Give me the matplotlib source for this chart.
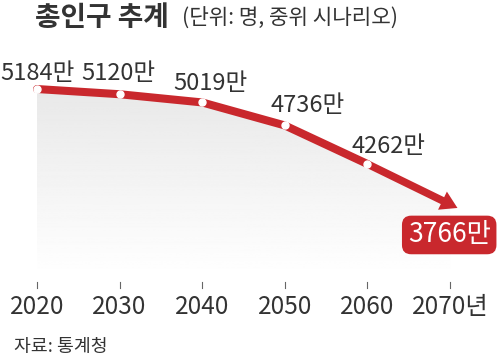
import numpy as np
import matplotlib.pyplot as plt
from matplotlib.patches import Polygon

plt.rcParams['font.family'] = ['Noto Sans CJK KR', 'DejaVu Sans']
narrow = ['Liberation Sans Narrow', 'Noto Sans CJK KR', 'DejaVu Sans']

# 데이터
years = [2020, 2030, 2040, 2050, 2060, 2070]
pop = [5184, 5120, 5019, 4736, 4262, 3766]
labels = ['5184만', '5120만', '5019만', '4736만', '4262만', '3766만']
tick_labels = ['2020', '2030', '2040', '2050', '2060', '2070년']

red = '#c9282d'
txt = '#333333'

fig = plt.figure(figsize=(5, 3.6), dpi=100)
ax = fig.add_axes([0, 0, 1, 1])
ax.set_xlim(2015.52, 2076.05)
ax.set_ylim(1851, 6279)
ax.axis('off')

# 회색 그라데이션 영역
base = 2872
verts = [(years[0], base)] + list(zip(years, pop)) + [(years[-1], base)]
poly = Polygon(verts, closed=True, facecolor='none', edgecolor='none')
ax.add_patch(poly)
grad = np.linspace(0.91, 1.0, 256).reshape(-1, 1)
im = ax.imshow(grad, cmap='gray', vmin=0, vmax=1, aspect='auto',
               extent=[years[0], years[-1], base, max(pop)], origin='upper',
               zorder=1)
im.set_clip_path(poly)

# 선 + 화살표
ax.plot(years[:-1], pop[:-1], color=red, lw=5.8, solid_capstyle='round',
        solid_joinstyle='round', zorder=3)
ax.annotate('', xy=(years[-1] + 0.9, pop[-1] - 45), xytext=(years[-2], pop[-2]),
            arrowprops=dict(arrowstyle='simple,head_length=1.2,head_width=1.45,tail_width=0.55',
                            color=red, shrinkA=0, shrinkB=0, lw=0), zorder=3)
ax.plot(years[:-1], pop[:-1], 'o', color='white', ms=5, zorder=4)

# 값 라벨
offs = [(0, 6.5), (-0.1, 10), (1.0, 8.6), (2.8, 9.4), (2.5, 8)]
for (dx, dy), x, y, lab in zip(offs, years, pop, labels):
    ax.annotate(lab, (x + dx, y), xytext=(0, dy), textcoords='offset points',
                ha='center', va='baseline', fontsize=17, color=txt, zorder=5,
                family=narrow)

ax.text(2069.9, 3389, labels[-1], ha='center', va='center', fontsize=19,
        color='white', zorder=6, family=narrow,
        bbox=dict(boxstyle='round,pad=0.22,rounding_size=0.35', fc=red, ec='none'))

# x축 눈금
for x, lab in zip(years, tick_labels):
    ax.plot([x, x], [2810, 2737], color='#666666', lw=0.8)
    ax.text(x, 2500, lab, ha='center', va='center', fontsize=17.5, color=txt,
            family=narrow)

# 제목, 출처
fig.text(35 / 500, 1 - 18 / 360, '총인구 추계', fontsize=20, fontweight='bold',
         color=txt, ha='left', va='center')
fig.text(182 / 500, 1 - 19 / 360, '(단위: 명, 중위 시나리오)', fontsize=15.3,
         color=txt, ha='left', va='center')
fig.text(14 / 500, 1 - 347 / 360, '자료: 통계청', fontsize=13.2, color=txt,
         ha='left', va='center')

fig.savefig('out.png', dpi=100, facecolor='white')
